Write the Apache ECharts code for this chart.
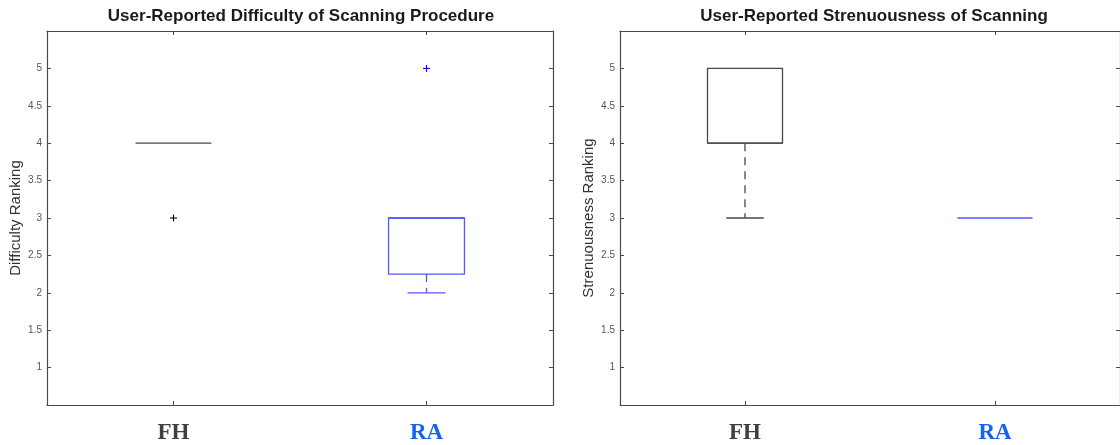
<!DOCTYPE html>
<html>
<head>
<meta charset="utf-8">
<script src="https://cdn.jsdelivr.net/npm/echarts@6/dist/echarts.min.js"></script>
<style>
  html, body { margin: 0; padding: 0; background: #ffffff; }
  #chart { width: 1120px; height: 445px; }
</style>
</head>
<body>
<div id="chart"></div>
<script>
// ---- data ----
const categories = ['FH', 'RA'];
const yTickLabels = [1, 1.5, 2, 2.5, 3, 3.5, 4, 4.5, 5];
// [min, q1, median, q3, max] per category
const difficultyBoxes = [[4, 4, 4, 4, 4], [2, 2.25, 3, 3, 3]];
const difficultyOutliers = [[0, 3], [1, 5]];
const strenuousnessBoxes = [[3, 4, 4, 5, 5], [3, 3, 3, 3, 3]];
const strenuousnessOutliers = [];

// ---- styles ----
const boxColors = ['#484848', '#5656ff'];
const outlierColors = ['#000000', '#0000ff'];
const labelColors = ['#404040', '#1463f0'];
const axisColor = '#4a4a4a';
const font = '"Liberation Sans", Arial, Helvetica, sans-serif';

function renderBox(params, api) {
  const i = api.value(0);
  const mn = api.value(1), q1 = api.value(2), md = api.value(3), q3 = api.value(4), mx = api.value(5);
  const band = api.size([1, 0])[0];
  const halfW = band * 0.15;
  const capHalf = band * 0.075;
  const cx = api.coord([i, md])[0];
  const y = v => api.coord([i, v])[1];
  const color = boxColors[i];
  const solid = { stroke: color, lineWidth: 1.3, fill: null };
  const dashed = { stroke: color, lineWidth: 1.3, lineDash: [8, 6], fill: null };
  const children = [];
  if (q3 > q1) {
    children.push({ type: 'rect', shape: { x: cx - halfW, y: y(q3), width: 2 * halfW, height: y(q1) - y(q3) }, style: solid });
  }
  children.push({ type: 'line', shape: { x1: cx - halfW, y1: y(md), x2: cx + halfW, y2: y(md) }, style: solid });
  if (mx > q3) {
    children.push({ type: 'line', shape: { x1: cx, y1: y(q3), x2: cx, y2: y(mx) }, style: dashed });
    children.push({ type: 'line', shape: { x1: cx - capHalf, y1: y(mx), x2: cx + capHalf, y2: y(mx) }, style: solid });
  }
  if (mn < q1) {
    children.push({ type: 'line', shape: { x1: cx, y1: y(q1), x2: cx, y2: y(mn) }, style: dashed });
    children.push({ type: 'line', shape: { x1: cx - capHalf, y1: y(mn), x2: cx + capHalf, y2: y(mn) }, style: solid });
  }
  return { type: 'group', children: children };
}

function renderOutlier(params, api) {
  const i = api.value(0);
  const p = api.coord([i, api.value(1)]);
  const s = 3.5;
  const st = { stroke: outlierColors[i], lineWidth: 1.1 };
  return {
    type: 'group',
    children: [
      { type: 'line', shape: { x1: p[0] - s, y1: p[1], x2: p[0] + s, y2: p[1] }, style: st },
      { type: 'line', shape: { x1: p[0], y1: p[1] - s, x2: p[0], y2: p[1] + s }, style: st }
    ]
  };
}

const catData = categories.map((c, i) => ({
  value: c,
  textStyle: { color: labelColors[i] }
}));

function xBottom(gridIndex) {
  return {
    type: 'category', gridIndex: gridIndex, position: 'bottom', data: catData, boundaryGap: true,
    axisLine: { show: true, lineStyle: { color: axisColor, width: 1.2 } },
    axisTick: { show: true, inside: true, length: 4, alignWithLabel: true, lineStyle: { color: axisColor } },
    axisLabel: { margin: 17, fontFamily: '"Liberation Serif", "Times New Roman", serif', fontWeight: 'bold', fontSize: 23 },
    splitLine: { show: false }
  };
}
function xTop(gridIndex) {
  return {
    type: 'category', gridIndex: gridIndex, position: 'top', data: categories, boundaryGap: true,
    axisLine: { show: true, lineStyle: { color: axisColor, width: 1.2 } },
    axisTick: { show: true, inside: true, length: 4, alignWithLabel: true, lineStyle: { color: axisColor } },
    axisLabel: { show: false },
    splitLine: { show: false }
  };
}
function yLeft(gridIndex, name) {
  return {
    type: 'value', gridIndex: gridIndex, position: 'left', min: 0.5, max: 5.5, interval: 0.5,
    name: name, nameLocation: 'middle', nameGap: 24,
    nameTextStyle: { fontFamily: font, fontSize: 15, color: '#333333' },
    axisLine: { show: true, lineStyle: { color: axisColor, width: 1.2 } },
    axisTick: { show: true, inside: true, length: 4, lineStyle: { color: axisColor } },
    axisLabel: {
      margin: 5, fontFamily: font, fontSize: 10, color: '#555555',
      formatter: v => (yTickLabels.indexOf(v) >= 0 ? String(v) : '')
    },
    splitLine: { show: false }
  };
}
function yRight(gridIndex) {
  return {
    type: 'value', gridIndex: gridIndex, position: 'right', min: 0.5, max: 5.5, interval: 0.5,
    axisLine: { show: true, lineStyle: { color: axisColor, width: 1.2 } },
    axisTick: { show: true, inside: true, length: 4, lineStyle: { color: axisColor } },
    axisLabel: { show: false },
    splitLine: { show: false }
  };
}

const chart = echarts.init(document.getElementById('chart'), null, { renderer: 'canvas' });
chart.setOption({
  backgroundColor: '#ffffff',
  animation: false,
  title: [
    { text: 'User-Reported Difficulty of Scanning Procedure', left: 301, top: 8, textAlign: 'center', padding: 0,
      textStyle: { fontFamily: font, fontWeight: 'bold', fontSize: 17, color: '#1a1a1a' } },
    { text: 'User-Reported Strenuousness of Scanning', left: 874, top: 8, textAlign: 'center', padding: 0,
      textStyle: { fontFamily: font, fontWeight: 'bold', fontSize: 17, color: '#1a1a1a' } }
  ],
  grid: [
    { left: 47, top: 31, width: 506, height: 374 },
    { left: 620, top: 31, width: 508, height: 374 }
  ],
  xAxis: [xBottom(0), xTop(0), xBottom(1), xTop(1)],
  yAxis: [yLeft(0, 'Difficulty Ranking'), yRight(0), yLeft(1, 'Strenuousness Ranking'), yRight(1)],
  series: [
    { type: 'custom', xAxisIndex: 0, yAxisIndex: 0, renderItem: renderBox,
      encode: { x: 0, y: [1, 2, 3, 4, 5] },
      data: difficultyBoxes.map((b, i) => [i].concat(b)) },
    { type: 'custom', xAxisIndex: 0, yAxisIndex: 0, renderItem: renderOutlier,
      encode: { x: 0, y: 1 }, data: difficultyOutliers },
    { type: 'custom', xAxisIndex: 2, yAxisIndex: 2, renderItem: renderBox,
      encode: { x: 0, y: [1, 2, 3, 4, 5] },
      data: strenuousnessBoxes.map((b, i) => [i].concat(b)) },
    { type: 'custom', xAxisIndex: 2, yAxisIndex: 2, renderItem: renderOutlier,
      encode: { x: 0, y: 1 }, data: strenuousnessOutliers }
  ]
});
</script>
</body>
</html>
